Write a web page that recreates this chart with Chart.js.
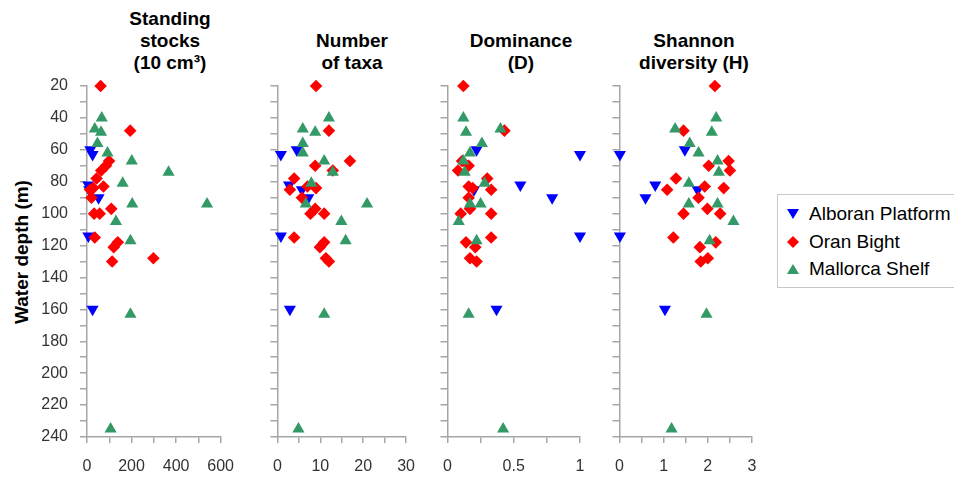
<!DOCTYPE html>
<html>
<head>
<meta charset="utf-8">
<script src="https://cdn.jsdelivr.net/npm/chart.js@4.4.0/dist/chart.umd.min.js"></script>
<style>
  body { margin: 0; width: 954px; height: 477px; overflow: hidden; background: #fff; position: relative;
         font-family: "Liberation Sans", Arial, sans-serif; }
  canvas { position: absolute; top: 0; }
  .title { position: absolute; width: 200px; text-align: center; font-weight: bold; font-size: 19px; line-height: 22px; color: #000; }
  .ytitle { position: absolute; left: -128px; top: 241px; width: 300px; text-align: center; font-weight: bold;
            font-size: 19px; line-height: 22px; transform: rotate(-90deg); color: #000; }
  #legend { position: absolute; left: 777px; top: 194px; width: 200px; height: 92px; border: 1px solid #c8c8c8; }
  .row { position: absolute; left: 0; height: 22px; font-size: 19px; line-height: 22px; color: #000; }
  .row svg { position: absolute; left: 9px; top: 5px; }
  .row span { position: absolute; left: 31px; white-space: nowrap; }
</style>
</head>
<body>
<div class="title" style="left:70px;top:8px">Standing<br>stocks<br>(10 cm³)</div>
<div class="title" style="left:252px;top:30px">Number<br>of taxa</div>
<div class="title" style="left:421px;top:30px">Dominance<br>(D)</div>
<div class="title" style="left:594px;top:30px">Shannon<br>diversity (H)</div>
<div class="ytitle">Water depth (m)</div>

<canvas id="c1" width="248" height="477" style="left:0px"></canvas>
<canvas id="c2" width="170" height="477" style="left:259px"></canvas>
<canvas id="c3" width="171" height="477" style="left:429px"></canvas>
<canvas id="c4" width="171" height="477" style="left:601px"></canvas>

<div id="legend">
  <div class="row" style="top:8px"><svg width="12" height="12"><polygon points="0,1 12,1 6,11" fill="#0000ff"/></svg><span>Alboran Platform</span></div>
  <div class="row" style="top:36px"><svg width="12" height="12"><polygon points="6,0 12,6 6,12 0,6" fill="#ff0000"/></svg><span>Oran Bight</span></div>
  <div class="row" style="top:63px"><svg width="12" height="12"><polygon points="6,1 12,11 0,11" fill="#339966"/></svg><span>Mallorca Shelf</span></div>
</div>

<script>
// station depths (m)
const depthAlboran  = [60, 63, 82, 85, 90, 114, 160];
const depthOran     = [20, 48, 67, 70, 73, 78, 83, 84, 85, 90, 97, 100, 100, 115, 118, 121, 128, 130];
const depthMallorca = [40, 47, 49, 56, 62, 67, 74, 81, 94, 94, 105, 117, 163, 235];

// standing stocks (10 cm3)
const stocksAlboran  = [15, 25, 6, 10, 52, 6, 25];
const stocksOran     = [61, 194, 99, 85, 64, 43, 74, 28, 14, 20, 109, 32, 57, 35, 138, 120, 298, 113];
const stocksMallorca = [66, 35, 63, 47, 92, 201, 366, 160, 203, 539, 130, 195, 195, 106];

// number of taxa
const taxaAlboran  = [4.5, 0.8, 2.7, 5.7, 7.2, 0.8, 2.9];
const taxaOran     = [9, 12, 16.9, 8.8, 12.9, 3.9, 7, 9, 2.9, 5.7, 8.8, 7.7, 10.9, 3.9, 10.9, 9.9, 11.3, 12];
const taxaMallorca = [12, 5.9, 8.8, 5.9, 5.9, 10.9, 12.9, 7.9, 6.6, 20.9, 14.9, 15.9, 10.9, 4.9];

// dominance (D)
const domAlboran  = [0.22, 1.0, 0.55, 0.2, 0.79, 1.0, 0.37];
const domOran     = [0.12, 0.43, 0.11, 0.16, 0.08, 0.30, 0.16, 0.19, 0.33, 0.16, 0.17, 0.10, 0.33, 0.33, 0.14, 0.21, 0.17, 0.22];
const domMallorca = [0.12, 0.40, 0.14, 0.26, 0.17, 0.12, 0.13, 0.28, 0.17, 0.25, 0.085, 0.22, 0.16, 0.42];

// Shannon diversity (H)
const shanAlboran  = [1.48, 0.01, 0.81, 1.77, 0.59, 0.01, 1.03];
const shanOran     = [2.16, 1.45, 2.47, 2.02, 2.50, 1.28, 1.93, 2.36, 1.08, 1.79, 1.99, 1.45, 2.28, 1.22, 2.18, 1.82, 2.0, 1.84];
const shanMallorca = [2.19, 1.26, 2.09, 1.59, 1.79, 2.22, 2.25, 1.57, 1.57, 2.22, 2.58, 2.04, 1.97, 1.18];

// tick labels
const depthLabels  = [20, 40, 60, 80, 100, 120, 140, 160, 180, 200, 220, 240];
const stocksLabels = [0, 200, 400, 600];
const taxaLabels   = [0, 10, 20, 30];
const domLabels    = [0, 0.5, 1];
const shanLabels   = [0, 1, 2, 3];

Chart.defaults.font.family = '"Liberation Sans", Arial, sans-serif';
Chart.defaults.font.size = 16;
Chart.defaults.color = '#333';

const axisGrey = '#a6a6a6';

function pts(xs, ys) {
  return xs.map((v, i) => ({ x: v, y: ys[i] }));
}

function makePanel(id, a, o, m, xMax, xStep, xLabels, showDepth, yWidth) {
  new Chart(document.getElementById(id), {
    type: 'scatter',
    data: {
      datasets: [
        { label: 'Alboran Platform', data: pts(a, depthAlboran), pointStyle: 'triangle', rotation: 180,
          pointRadius: 7, backgroundColor: '#0000ff', borderWidth: 0, order: 3, clip: false },
        { label: 'Oran Bight', data: pts(o, depthOran), pointStyle: 'rectRot',
          pointRadius: 6.3, backgroundColor: '#ff0000', borderWidth: 0, order: 2, clip: false },
        { label: 'Mallorca Shelf', data: pts(m, depthMallorca), pointStyle: 'triangle',
          pointRadius: 7, backgroundColor: '#339966', borderWidth: 0, order: 1, clip: false }
      ]
    },
    options: {
      responsive: false,
      animation: false,
      devicePixelRatio: 1,
      layout: { padding: { top: 86, right: 20, left: 0, bottom: 0 } },
      plugins: { legend: { display: false }, tooltip: { enabled: false } },
      scales: {
        x: {
          type: 'linear', min: 0, max: xMax,
          afterFit: s => { s.height = 40; },
          border: { color: axisGrey, width: 1.5 },
          grid: { drawOnChartArea: false, tickLength: 6, color: axisGrey, lineWidth: 1.5 },
          ticks: {
            stepSize: xStep, autoSkip: false, maxRotation: 0, padding: 14,
            callback: v => xLabels.includes(v) ? String(v) : ''
          }
        },
        y: {
          type: 'linear', min: 20, max: 240, reverse: true,
          afterFit: s => { s.width = yWidth; },
          border: { color: axisGrey, width: 1.5 },
          grid: { drawOnChartArea: false, tickLength: 7, color: axisGrey, lineWidth: 1.5 },
          ticks: {
            stepSize: 10, autoSkip: false, padding: 12,
            callback: v => (showDepth && depthLabels.includes(v)) ? String(v) : ''
          }
        }
      }
    }
  });
}

makePanel('c1', stocksAlboran, stocksOran, stocksMallorca, 600, 100, stocksLabels, true, 87);
makePanel('c2', taxaAlboran, taxaOran, taxaMallorca, 30, 5, taxaLabels, false, 10);
makePanel('c3', domAlboran, domOran, domMallorca, 1, 0.25, domLabels, false, 10);
makePanel('c4', shanAlboran, shanOran, shanMallorca, 3, 0.5, shanLabels, false, 10);
</script>
</body>
</html>
